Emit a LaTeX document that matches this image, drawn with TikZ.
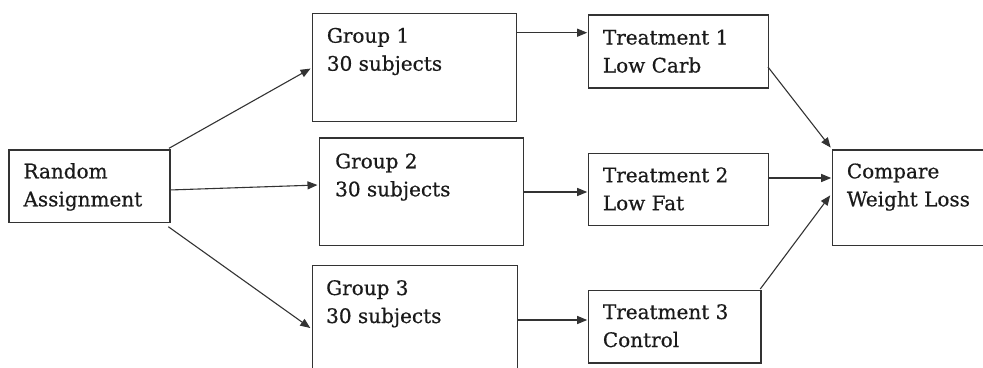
\documentclass[tikz,border=0pt]{standalone}
\usepackage{fontspec}
\setmainfont[FakeBold=0.6]{DejaVu Serif}
\usetikzlibrary{arrows.meta}
\definecolor{edge}{HTML}{333333}
\definecolor{ink}{HTML}{1A1A1A}
\tikzset{
  box/.style={draw=edge, line width=1.2pt, fill=none, inner sep=0pt, anchor=north west},
  txt/.style={text=ink, inner sep=0pt, anchor=base west, align=left,
    font=\fontsize{20}{28}\selectfont},
  flow/.style={draw=edge, line width=1.1pt, -{Triangle[length=10pt, width=8pt]}, shorten >=0.5pt},
}
\begin{document}
\begin{tikzpicture}[x=1pt, y=-1pt]
  \useasboundingbox (0,0) rectangle (983,367);
  \clip (0,0) rectangle (983,367);

  % boxes
  \node[box, minimum width=161pt, minimum height=72.5pt] (ra) at (8.3,149.3) {};
  \node[box, minimum width=204pt, minimum height=108pt] (g1) at (312,13) {};
  \node[box, minimum width=204pt, minimum height=107.7pt] (g2) at (319,137.3) {};
  \node[box, minimum width=205pt, minimum height=130pt] (g3) at (311.7,265) {};
  \node[box, minimum width=180pt, minimum height=73pt] (t1) at (587.7,14.3) {};
  \node[box, minimum width=180pt, minimum height=72.3pt] (t2) at (587.7,152.7) {};
  \node[box, minimum width=172.6pt, minimum height=72.3pt] (t3) at (587.7,290) {};
  \node[box, minimum width=180pt, minimum height=95.7pt] (cw) at (831.7,149.3) {};

  % labels (anchored at the baseline of the last line)
  \node[txt] (rat) at (23.3,206.3) {Random\\Assignment};
  \node[txt] (g1t) at (326.7,70.7) {Group 1\\30 subjects};
  \node[txt] (g2t) at (335,196.3) {Group 2\\30 subjects};
  \node[txt] (g3t) at (326,323) {Group 3\\30 subjects};
  \node[txt] (t1t) at (602.7,72.5) {Treatment 1\\Low Carb};
  \node[txt] (t2t) at (602.7,210.2) {Treatment 2\\Low Fat};
  \node[txt] (t3t) at (602.7,347) {Treatment 3\\Control};
  \node[txt] (cwt) at (846.7,206.3) {Compare\\Weight Loss};

  % connector ends
  \coordinate (ra1) at (169,148.3);
  \coordinate (ra2) at (169.3,190);
  \coordinate (ra3) at (168.3,226.7);
  \coordinate (g1in) at (311,68.3);
  \coordinate (g2in) at (318,185);
  \coordinate (g3in) at (310.7,328.3);
  \coordinate (t1out) at (768,67);
  \coordinate (t3out) at (760.3,289);
  \coordinate (cw1) at (831,148);
  \coordinate (cw3) at (830.5,195);

  % connectors
  \draw[flow] (ra1) -- (g1in);
  \draw[flow] (ra2) -- (g2in);
  \draw[flow] (ra3) -- (g3in);
  \draw[flow] (g1.east |- 0,32.7) -- (t1.west |- 0,32.7);
  \draw[flow] (g2.east |- 0,192) -- (t2.west |- 0,192);
  \draw[flow] (g3.east |- 0,320) -- (t3.west |- 0,320);
  \draw[flow] (t1out) -- (cw1);
  \draw[flow] (t2.east |- 0,178) -- (cw.west |- 0,178);
  \draw[flow] (t3out) -- (cw3);
\end{tikzpicture}
\end{document}
